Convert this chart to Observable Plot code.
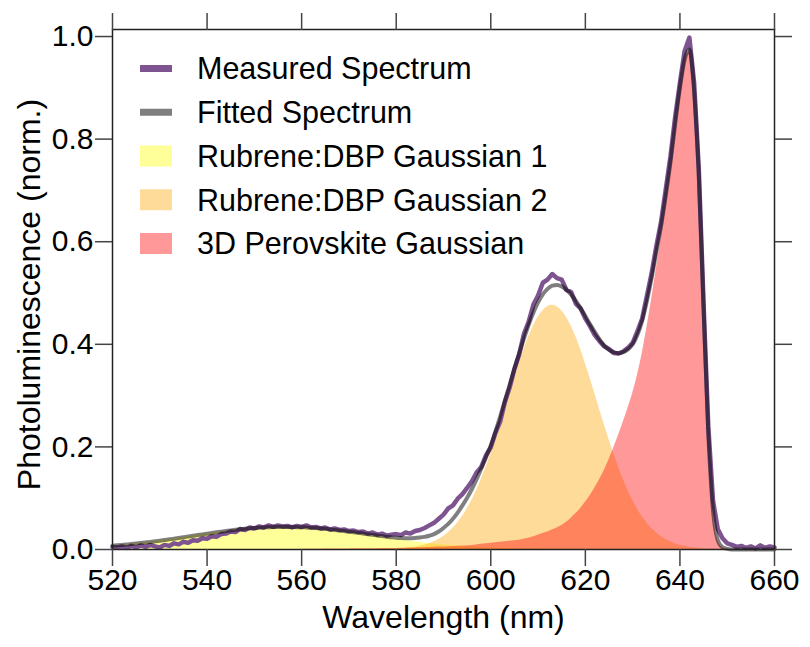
<!DOCTYPE html>
<html>
<head>
<meta charset="utf-8">
<script src="https://cdn.jsdelivr.net/npm/d3@7"></script>
<script src="https://cdn.jsdelivr.net/npm/@observablehq/plot@0.6"></script>
<style>
  html, body { margin: 0; padding: 0; background: white; }
  #wrap { position: relative; width: 810px; height: 647px; }
  #legend { position: absolute; left: 0; top: 0; pointer-events: none; }
</style>
</head>
<body>
<div id="wrap"></div>
<script>
// ---- data ----
const wavelength = [
  520,521,522,523,524,525,526,527,528,529,
  530,531,532,533,534,535,536,537,538,539,
  540,541,542,543,544,545,546,547,548,549,
  550,551,552,553,554,555,556,557,558,559,
  560,561,562,563,564,565,566,567,568,569,
  570,571,572,573,574,575,576,577,578,579,
  580,581,582,583,584,585,586,587,588,589,
  590,591,592,593,594,595,596,597,598,599,
  600,601,602,603,604,605,606,607,608,609,
  610,611,612,613,614,615,616,617,618,619,
  620,621,622,623,624,625,626,627,628,629,
  630,631,632,633,634,635,636,637,638,639,
  640,641,642,643,644,645,646,647,648,649,
  650,651,652,653,654,655,656,657,658,659,
  660
];

const measured = [
  0.005,0.004,0.006,0.003,0.007,0.004,0.008,0.005,0.009,0.006,
  0.004,0.009,0.007,0.012,0.010,0.015,0.013,0.018,0.017,0.022,
  0.021,0.026,0.025,0.030,0.031,0.035,0.034,0.040,0.038,0.043,
  0.041,0.045,0.043,0.047,0.044,0.047,0.045,0.046,0.043,0.046,
  0.044,0.047,0.043,0.044,0.041,0.043,0.039,0.041,0.038,0.039,
  0.036,0.037,0.034,0.035,0.031,0.033,0.029,0.031,0.027,0.029,
  0.030,0.028,0.033,0.031,0.036,0.038,0.042,0.047,0.052,0.060,
  0.068,0.080,0.086,0.099,0.108,0.120,0.133,0.150,0.161,0.184,
  0.199,0.228,0.250,0.288,0.316,0.352,0.380,0.420,0.444,0.477,
  0.495,0.520,0.526,0.537,0.529,0.526,0.506,0.502,0.479,0.470,
  0.450,0.435,0.418,0.406,0.396,0.391,0.383,0.382,0.386,0.393,
  0.403,0.425,0.450,0.494,0.538,0.591,0.638,0.702,0.766,0.844,
  0.910,0.972,0.998,0.910,0.740,0.480,0.240,0.095,0.040,0.022,
  0.012,0.009,0.005,0.007,0.003,0.006,0.002,0.008,0.003,0.006,
  0.004
];

const fitted = [
  0.0073,0.0081,0.0089,0.0097,0.0107,0.0116,0.0126,0.0137,0.0148,0.0160,
  0.0172,0.0185,0.0198,0.0211,0.0225,0.0239,0.0253,0.0267,0.0281,0.0295,
  0.0309,0.0322,0.0335,0.0348,0.0360,0.0372,0.0383,0.0393,0.0403,0.0411,
  0.0419,0.0425,0.0430,0.0435,0.0438,0.0439,0.0440,0.0439,0.0438,0.0435,
  0.0435,0.0431,0.0425,0.0418,0.0410,0.0401,0.0392,0.0381,0.0370,0.0359,
  0.0348,0.0336,0.0324,0.0312,0.0298,0.0285,0.0273,0.0261,0.0248,0.0238,
  0.0229,0.0223,0.0220,0.0221,0.0223,0.0232,0.0246,0.0268,0.0299,0.0350,
  0.0420,0.0500,0.0600,0.0720,0.0860,0.1010,0.1180,0.1370,0.1580,0.1800,
  0.2030,0.2299,0.2598,0.2906,0.3217,0.3525,0.3822,0.4111,0.4375,0.4615,
  0.4817,0.4972,0.5080,0.5145,0.5158,0.5129,0.5062,0.4969,0.4847,0.4701,
  0.4550,0.4389,0.4239,0.4096,0.3975,0.3893,0.3846,0.3827,0.3848,0.3902,
  0.4000,0.4181,0.4454,0.4839,0.5284,0.5796,0.6304,0.6896,0.7549,0.8302,
  0.9004,0.9552,0.9745,0.8933,0.7273,0.4716,0.2261,0.0758,0.0185,0.0044,
  0.0013,0.0002,0.0001,0.0001,0,0,0,0,0,0,
  0
];

const gaussian1 = [
  0.0073,0.0081,0.0089,0.0097,0.0107,0.0116,0.0126,0.0137,0.0148,0.0160,
  0.0172,0.0185,0.0198,0.0211,0.0225,0.0239,0.0253,0.0267,0.0281,0.0295,
  0.0309,0.0322,0.0335,0.0348,0.0360,0.0372,0.0383,0.0393,0.0403,0.0411,
  0.0419,0.0425,0.0430,0.0435,0.0438,0.0439,0.0440,0.0439,0.0438,0.0435,
  0.0430,0.0425,0.0419,0.0411,0.0403,0.0393,0.0383,0.0372,0.0360,0.0348,
  0.0335,0.0322,0.0309,0.0295,0.0281,0.0267,0.0253,0.0239,0.0225,0.0211,
  0.0198,0.0185,0.0172,0.0160,0.0148,0.0137,0.0126,0.0116,0.0107,0.0097,
  0.0089,0.0081,0.0073,0.0066,0.0060,0.0054,0.0048,0.0043,0.0038,0.0034,
  0.0030,0.0026,0.0023,0.0020,0.0018,0.0016,0.0014,0.0012,0.0010,0.0009,
  0.0008,0.0007,0.0006,0.0005,0.0004,0.0004,0.0003,0.0003,0.0002,0.0002,
  0.0002,0,0,0,0,0,0,0,0,0,
  0,0,0,0,0,0,0,0,0,0,
  0,0,0,0,0,0,0,0,0,0,
  0,0,0,0,0,0,0,0,0,0,
  0
];

const gaussian2 = [
  0,0,0,0,0,0,0,0,0,0,
  0,0,0,0,0,0,0,0,0,0,
  0,0,0,0,0,0,0,0,0,0,
  0,0,0,0,0,0,0,0,0,0,
  0,0,0,0,0,0,0,0,0,0,
  0.0001,0.0001,0.0001,0.0002,0.0002,0.0002,0.0003,0.0004,0.0005,0.0008,
  0.0011,0.0016,0.0023,0.0033,0.0045,0.0062,0.0084,0.0112,0.0149,0.0196,
  0.0254,0.0326,0.0414,0.0519,0.0644,0.0791,0.0960,0.1152,0.1368,0.1607,
  0.1866,0.2143,0.2435,0.2736,0.3039,0.3339,0.3628,0.3899,0.4145,0.4356,
  0.4529,0.4655,0.4734,0.4760,0.4734,0.4655,0.4529,0.4356,0.4145,0.3899,
  0.3628,0.3339,0.3039,0.2736,0.2435,0.2143,0.1866,0.1607,0.1368,0.1152,
  0.0960,0.0791,0.0644,0.0519,0.0414,0.0326,0.0254,0.0196,0.0149,0.0112,
  0.0084,0.0062,0.0045,0.0033,0.0023,0.0016,0.0011,0.0008,0.0005,0.0004,
  0.0003,0.0002,0.0001,0.0001,0,0,0,0,0,0,
  0
];

const perovskite = [
  0,0,0,0,0,0,0,0,0,0,
  0,0,0,0,0,0,0,0,0,0,
  0,0,0,0,0,0,0,0,0,0,
  0,0,0,0,0,0,0,0,0,0,
  0.0005,0.0006,0.0006,0.0007,0.0007,0.0008,0.0009,0.0009,0.0010,0.0011,
  0.0012,0.0013,0.0014,0.0015,0.0015,0.0016,0.0017,0.0018,0.0018,0.0019,
  0.0020,0.0022,0.0025,0.0028,0.0030,0.0033,0.0036,0.0040,0.0043,0.0047,
  0.0050,0.0055,0.0060,0.0065,0.0070,0.0075,0.0080,0.0090,0.0100,0.0110,
  0.012,0.013,0.014,0.015,0.016,0.017,0.018,0.020,0.022,0.025,
  0.028,0.031,0.034,0.038,0.042,0.047,0.053,0.061,0.070,0.080,
  0.092,0.105,0.120,0.136,0.154,0.175,0.198,0.222,0.248,0.275,
  0.304,0.339,0.381,0.432,0.487,0.547,0.605,0.670,0.740,0.819,
  0.892,0.949,0.970,0.890,0.725,0.470,0.225,0.075,0.018,0.004,
  0.001,0,0,0,0,0,0,0,0,0,
  0
];

const xTicks = [520, 540, 560, 580, 600, 620, 640, 660];
const yTicks = [0.0, 0.2, 0.4, 0.6, 0.8, 1.0];

const legendLabels = [
  "Measured Spectrum",
  "Fitted Spectrum",
  "Rubrene:DBP Gaussian 1",
  "Rubrene:DBP Gaussian 2",
  "3D Perovskite Gaussian"
];

// ---- styling ----
const FONT = "'Liberation Sans', Arial, Helvetica, sans-serif";
const purple = "#7e5490";
const fitColor = "black";
const fitOpacity = 0.5;
const fillOpacity = 0.4;

const rows = wavelength.map((w, i) => ({
  w, m: measured[i], f: fitted[i], g1: gaussian1[i], g2: gaussian2[i], g3: perovskite[i]
}));

const tickStroke = "#444";

const chart = Plot.plot({
  width: 810,
  height: 647,
  marginLeft: 112,
  marginRight: 36,
  marginTop: 29,
  marginBottom: 98,
  style: { fontFamily: FONT, fontSize: "30px", color: "black", background: "white", overflow: "visible" },
  x: { domain: [520, 660] },
  y: { domain: [0, 1.0137] },
  marks: [
    Plot.areaY(rows, { x: "w", y: "g1", fill: "yellow", fillOpacity, curve: "monotone-x" }),
    Plot.areaY(rows, { x: "w", y: "g2", fill: "orange", fillOpacity, curve: "monotone-x" }),
    Plot.areaY(rows, { x: "w", y: "g3", fill: "red", fillOpacity, curve: "monotone-x" }),
    Plot.line(rows, { x: "w", y: "m", stroke: purple, strokeWidth: 4.5, strokeLinejoin: "round" }),
    Plot.line(rows, { x: "w", y: "f", stroke: fitColor, strokeOpacity: fitOpacity, strokeWidth: 4, curve: "monotone-x" }),
    Plot.frame({ stroke: "#222", strokeWidth: 1.5 }),
    Plot.axisX({ anchor: "bottom", ticks: xTicks, tickSize: 17, tickPadding: 2, label: null,
                 stroke: tickStroke, strokeWidth: 1.5, fontSize: 30, tickFormat: d3.format("d") }),
    Plot.axisX({ anchor: "top", ticks: xTicks, tickSize: 17, label: null,
                 stroke: tickStroke, strokeWidth: 1.5, tickFormat: () => "" }),
    Plot.axisY({ anchor: "left", ticks: yTicks, tickSize: 17, tickPadding: 2, label: null,
                 stroke: tickStroke, strokeWidth: 1.5, fontSize: 30, tickFormat: d3.format(".1f") }),
    Plot.axisY({ anchor: "right", ticks: yTicks, tickSize: 17, label: null,
                 stroke: tickStroke, strokeWidth: 1.5, tickFormat: () => "" }),
    Plot.text(["Wavelength (nm)"], { frameAnchor: "bottom", dy: 68, fontSize: 32, fill: "black",
                                     textAnchor: "middle", lineAnchor: "middle" }),
    Plot.text(["Photoluminescence (norm.)"], { frameAnchor: "left", rotate: -90, dx: -83, dy: 5, fontSize: 32,
                                               fill: "black", textAnchor: "middle", lineAnchor: "middle" })
  ]
});

const wrap = document.getElementById("wrap");
wrap.appendChild(chart);

// ---- legend drawn inside the plot area (overlay) ----
const legendSvg = d3.create("svg")
  .attr("id", "legend")
  .attr("width", 810)
  .attr("height", 647)
  .style("font-family", FONT);

const swatchX = 140, swatchW = 32, textX = 197, row0 = 68.5, rowStep = 43.75, fs = 30.5;
const swatches = [
  { kind: "line", color: purple, opacity: 1 },
  { kind: "line", color: fitColor, opacity: fitOpacity },
  { kind: "rect", color: "yellow", opacity: fillOpacity },
  { kind: "rect", color: "orange", opacity: fillOpacity },
  { kind: "rect", color: "red", opacity: fillOpacity }
];
legendLabels.forEach((label, i) => {
  const cy = row0 + i * rowStep;
  const s = swatches[i];
  if (s.kind === "line") {
    legendSvg.append("rect")
      .attr("x", swatchX).attr("y", cy - 3.5).attr("width", swatchW).attr("height", 7)
      .attr("fill", s.color).attr("fill-opacity", s.opacity);
  } else {
    legendSvg.append("rect")
      .attr("x", swatchX).attr("y", cy - 10.5).attr("width", swatchW).attr("height", 21)
      .attr("fill", s.color).attr("fill-opacity", s.opacity);
  }
  legendSvg.append("text")
    .attr("x", textX).attr("y", cy + 0.36 * fs)
    .attr("font-size", fs).attr("fill", "black")
    .text(label);
});
wrap.appendChild(legendSvg.node());
</script>
</body>
</html>
